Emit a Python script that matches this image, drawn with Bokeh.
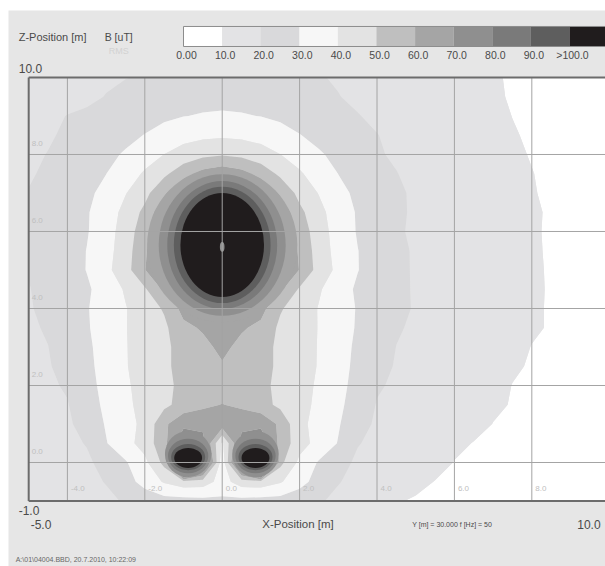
import numpy as np
from bokeh.plotting import figure
from bokeh.core.properties import value
from bokeh.embed import file_html
from bokeh.resources import INLINE

# ---------------- data ----------------
x_pos = [-5.0, -4.5, -4.0, -3.5, -3.0, -2.5, -2.0, -1.5, -1.0, -0.5, 0.0, 0.5, 1.0, 1.5, 2.0, 2.5,
         3.0, 3.5, 4.0, 4.5, 5.0, 5.5, 6.0, 6.5, 7.0, 7.5, 8.0, 8.5, 9.0, 9.5, 10.0]
z_pos = [-1.0, -0.5, 0.0, 0.5, 1.0, 1.5, 2.0, 2.5, 3.0, 3.5, 4.0, 4.5, 5.0, 5.5, 6.0, 6.5,
         7.0, 7.5, 8.0, 8.5, 9.0, 9.5, 10.0]

# B [uT] (RMS) on the grid, one row per z (ascending), columns follow x_pos
B_uT = [
    [11, 12.5, 14.8, 16.2, 17.8, 21, 24, 26, 26, 27, 28, 27, 26, 26, 24, 21, 17.8, 16.2, 14.8, 10.6, 9.2, 8.8, 8.5, 8.2, 7.9, 7.6, 7.4, 7.2, 7.0, 6.8, 6.5],
    [13.2, 14.4, 15.8, 17.3, 20.5, 26, 33.5, 41, 46, 45, 36, 45, 46, 41, 33.5, 26, 20.5, 17.3, 15.8, 14.4, 12, 9.8, 9.3, 8.8, 8.4, 8.1, 7.8, 7.5, 7.2, 7.0, 6.7],
    [13.9, 15.3, 16.7, 18.3, 23.5, 29, 37.5, 53, 160, 92, 33, 92, 160, 53, 37.5, 29, 23.5, 18.3, 16.7, 15.3, 13.9, 12.4, 9.8, 9.2, 8.8, 8.4, 8.1, 7.8, 7.5, 7.2, 6.9],
    [15.1, 16.4, 17.8, 20.5, 29.5, 36.5, 44, 57, 78, 74, 38, 74, 78, 57, 44, 36.5, 29.5, 20.5, 17.8, 16.4, 15.1, 13.8, 11.3, 9.8, 9.5, 9.0, 8.5, 8.1, 7.7, 7.4, 7.1],
    [15.9, 17.2, 18.6, 23.5, 30.8, 37.2, 42, 58, 67.5, 67, 66, 67, 67.5, 58, 42, 37.2, 30.8, 23.5, 18.6, 17.2, 15.9, 14.6, 13.2, 11.8, 9.9, 9.3, 8.8, 8.4, 8.0, 7.6, 7.3],
    [16.6, 17.8, 19.5, 26, 31.8, 38, 43, 47.5, 54, 58, 60.3, 58, 54, 47.5, 43, 38, 31.8, 26, 19.5, 17.8, 16.6, 15.3, 14, 12.6, 10.9, 9.7, 9.1, 8.6, 8.2, 7.8, 7.4],
    [17.2, 18.6, 21, 27.2, 32.5, 38.7, 43.3, 47.5, 52.5, 55, 56, 55, 52.5, 47.5, 43.3, 38.7, 32.5, 27.2, 21, 18.6, 17.2, 15.9, 14.6, 13.2, 11.6, 9.9, 9.3, 8.8, 8.3, 7.9, 7.5],
    [17.8, 19.2, 23.5, 28, 33, 39.4, 44, 48, 53.5, 57, 59, 57, 53.5, 48, 44, 39.4, 33, 28, 23.5, 19.2, 17.8, 16.5, 15.2, 13.9, 12.7, 10.6, 9.6, 9.1, 8.6, 8.1, 7.7],
    [18.3, 19.9, 24, 28.4, 33.5, 39.5, 44, 48, 53.5, 57.2, 62.5, 57.2, 53.5, 48, 44, 39.5, 33.5, 28.4, 24, 19.9, 18.3, 16.9, 15.6, 14.3, 13, 11.2, 9.9, 9.3, 8.8, 8.3, 7.8],
    [18.8, 20.8, 24.8, 29.2, 33.8, 39.6, 44.5, 48, 57.5, 61.2, 63, 61.2, 57.5, 48, 44.5, 39.6, 33.8, 29.2, 24.8, 20.8, 18.8, 17.3, 15.9, 14.5, 13.2, 12, 10.5, 9.7, 9.0, 8.4, 7.9],
    [19.4, 21.8, 25.5, 29.5, 33.5, 39.5, 45, 51, 63.5, 72, 77, 72, 63.5, 51, 45, 39.5, 33.5, 29.5, 25.5, 21.8, 19.4, 17.7, 16.1, 14.7, 13.3, 12, 10.5, 9.7, 9.0, 8.4, 7.9],
    [19.8, 21.5, 24.7, 28.5, 34.5, 41, 48.7, 62, 80, 101, 108, 101, 80, 62, 48.7, 41, 34.5, 28.5, 24.7, 21.5, 19.4, 17.7, 16.1, 14.7, 13.4, 12, 10.6, 9.7, 9.0, 8.4, 7.9],
    [20.2, 21.8, 25.5, 30.3, 37.5, 46, 59.6, 71.5, 97, 125, 150, 125, 97, 71.5, 59.6, 46, 37.5, 30.3, 25.5, 21.6, 19.3, 17.6, 16, 14.6, 13.3, 11.9, 10.5, 9.7, 9.0, 8.4, 7.9],
    [20.4, 21.9, 25.6, 30.2, 36.3, 45.5, 58, 76.5, 107, 215, 230, 215, 107, 76.5, 58, 45.5, 36.3, 30.2, 25.6, 21.5, 19.3, 17.6, 16, 14.6, 13.3, 11.9, 10.5, 9.6, 8.9, 8.3, 7.8],
    [20.5, 22, 25, 29.3, 35.7, 44.5, 56, 75, 104, 180, 220, 180, 104, 75, 56, 44.5, 35.7, 29.3, 25, 21, 18.8, 17.2, 15.8, 14.4, 13.1, 11.8, 10.4, 9.6, 8.9, 8.3, 7.8],
    [20.5, 22, 25.5, 29.2, 34.7, 43, 52.5, 68.5, 91.5, 125, 160, 125, 91.5, 68.5, 52.5, 43, 34.7, 29.2, 25.5, 21.5, 18.8, 17.2, 15.8, 14.4, 13.1, 11.8, 10.5, 9.6, 8.9, 8.3, 7.8],
    [20.2, 21.9, 24.8, 28.2, 32.5, 39.5, 47, 58.3, 72.5, 90.6, 100.5, 90.6, 72.5, 58.3, 47, 39.5, 32.5, 28.2, 24.8, 21.2, 18.9, 17.3, 15.8, 14.3, 12.9, 11.6, 10.2, 9.5, 8.8, 8.2, 7.7],
    [19.5, 20.8, 23, 26, 29.9, 35.3, 41.2, 48, 56, 63.5, 67, 63.5, 56, 48, 41.2, 35.3, 29.9, 26, 22.7, 20.2, 18.3, 16.7, 15.1, 13.7, 12.2, 11, 10.1, 9.3, 8.6, 8.0, 7.6],
    [18.8, 20.2, 21.8, 24.4, 27.7, 31, 35.8, 40.1, 44.5, 47.5, 49, 47.5, 44.5, 40.1, 35.8, 31, 27.7, 24.2, 20.6, 19.2, 17.6, 16, 14.6, 13.2, 11.8, 10.6, 9.8, 9.1, 8.5, 7.9, 7.5],
    [18, 19.3, 21, 22.8, 25, 27.5, 30.3, 33.8, 36.2, 37.8, 38.5, 37.8, 36.2, 33.8, 30.3, 27.5, 25, 22.4, 20.2, 18.3, 16.8, 15.4, 14, 12.8, 11.4, 10.3, 9.5, 8.9, 8.3, 7.8, 7.4],
    [17.2, 18.5, 20.2, 21, 22.5, 24.3, 26.3, 28.2, 29.8, 30.6, 31, 30.6, 29.8, 28.2, 26.3, 24.3, 22.2, 20.3, 18.7, 17.3, 16, 14.7, 13.4, 12.2, 11, 9.95, 9.3, 8.7, 8.2, 7.7, 7.3],
    [15.1, 16.3, 17.5, 18.8, 20.2, 22, 23.8, 25.3, 26.5, 27.2, 27.5, 27.2, 26.5, 25.3, 23.8, 22, 20.2, 18.8, 17.5, 16.3, 15.1, 13.9, 12.8, 11.7, 10.5, 9.7, 9.1, 8.6, 8.1, 7.6, 7.2],
    [15, 16.1, 17.2, 18.3, 19.2, 19.8, 20.6, 22.5, 23.3, 23.8, 24, 23.8, 23.3, 22.5, 21.5, 20.4, 19.4, 18.3, 17.2, 16.1, 15, 13.8, 12.7, 11.6, 10.4, 9.6, 9.0, 8.5, 8.0, 7.6, 7.2],
]

levels = [0, 10, 20, 30, 40, 50, 60, 70, 80, 90, 100, 1000]
cb_labels = ["0.00", "10.0", "20.0", "30.0", "40.0", "50.0", "60.0", "70.0", "80.0", "90.0", ">100.0"]
x_ticks = [-4, -2, 0, 2, 4, 6, 8]
x_tick_labels = ["-4.0", "-2.0", "0.0", "2.0", "4.0", "6.0", "8.0"]
z_ticks = [0, 2, 4, 6, 8]
z_tick_labels = ["0.0", "2.0", "4.0", "6.0", "8.0"]

# upper conductor and the iso-lines around it (half-axes)
cond_x = [0.0]
cond_z = [5.6]
ring_x = [0.0] * 5
ring_z = [5.65] * 5
ring_level = [60, 70, 80, 90, 100]          # lower bound of the band inside each ring
ring_rx = [1.94, 1.64, 1.42, 1.25, 1.08]    # horizontal half-axis [m]
ring_rz = [2.01, 1.84, 1.66, 1.51, 1.35]    # vertical half-axis [m]

# iso-lines around the two lower conductors
low_x = [-0.88, -0.88, -0.88, -0.88, 0.86, 0.86, 0.86, 0.86]
low_z = [0.22, 0.17, 0.14, 0.12, 0.22, 0.17, 0.14, 0.12]
low_level = [70, 80, 90, 100, 70, 80, 90, 100]
low_rx = [0.60, 0.52, 0.44, 0.36, 0.60, 0.52, 0.44, 0.36]
low_rz = [0.60, 0.45, 0.34, 0.26, 0.60, 0.45, 0.34, 0.26]

# ---------------- style ----------------
band_colors = ["#ffffff", "#e3e3e5", "#d9d9db", "#f7f7f7", "#e3e3e3", "#bfbfbf",
               "#a5a5a5", "#8f8f8f", "#7a7a7a", "#5e5e5e", "#201c1d"]
BG = "#e6e6e6"
FONT = value("Liberation Sans")
TXT = "#4a4a4a"

X_LO, X_HI = -5.522, 9.904
Z_LO, Z_HI = -2.701, 11.740
x0, x1 = x_pos[0], x_pos[-1]
z0, z1 = z_pos[0], z_pos[-1]

p = figure(width=605, height=566, x_range=(X_LO, X_HI), y_range=(Z_LO, Z_HI),
           x_axis_location=None, y_axis_location=None, toolbar_location=None,
           output_backend="svg", min_border_left=8, min_border_top=10,
           min_border_right=0, min_border_bottom=0, background_fill_color=BG,
           border_fill_color="white", outline_line_color=None)
p.grid.visible = False

# filled contour bands
p.contour(x_pos, z_pos, np.array(B_uT, dtype=float), levels, fill_color=band_colors)


def band_color(lv):
    return band_colors[levels.index(lv)]


# smooth iso-rings around the conductors
p.ellipse(ring_x, ring_z, width=[2 * r for r in ring_rx], height=[2 * r for r in ring_rz],
          fill_color=[band_color(lv) for lv in ring_level], line_color=None)
p.ellipse(low_x, low_z, width=[2 * r for r in low_rx], height=[2 * r for r in low_rz],
          fill_color=[band_color(lv) for lv in low_level], line_color=None)

# conductor marker
p.ellipse(cond_x, cond_z, width=0.12, height=0.25, fill_color="#8e8e8e", line_color=None)

# grid lines on top of the bands
p.segment(x0=x_ticks, y0=[z0] * len(x_ticks), x1=x_ticks, y1=[z1] * len(x_ticks),
          line_color="#a4a4a4", line_width=1)
p.segment(x0=[x0] * len(z_ticks), y0=z_ticks, x1=[X_HI] * len(z_ticks), y1=z_ticks,
          line_color="#a4a4a4", line_width=1)

# frame (left, top, bottom)
p.segment(x0=[x0, x0, x0], y0=[z0, z1, z0], x1=[x0, X_HI, X_HI], y1=[z1, z1, z0],
          line_color="#6c6c6c", line_width=2)

# faint inner tick labels
p.text(x=[x0] * len(z_ticks), y=z_ticks, text=z_tick_labels, x_offset=3, y_offset=-11,
       text_font=FONT, text_font_size="8px", text_color="#c0c0c0",
       text_align="left", text_baseline="middle")
p.text(x=x_ticks, y=[z0] * len(x_ticks), text=x_tick_labels, x_offset=3.5, y_offset=-13,
       text_font=FONT, text_font_size="8px", text_color="#c0c0c0",
       text_align="left", text_baseline="middle")

# colour bar (legend)
cb_left, cb_w = -1.0, 0.9974
cb_bottom, cb_top = 10.805, 11.325
n = len(band_colors)
p.quad(left=[cb_left + i * cb_w for i in range(n)], right=[cb_left + (i + 1) * cb_w for i in range(n)],
       bottom=cb_bottom, top=cb_top, fill_color=band_colors, line_color=None)
p.quad(left=[cb_left], right=[cb_left + n * cb_w], bottom=[cb_bottom], top=[cb_top],
       fill_color=None, line_color="#8c8c8c", line_width=1)
p.text(x=[cb_left + i * cb_w for i in range(n)], y=[cb_bottom] * n, text=cb_labels,
       x_offset=3, y_offset=9, text_font=FONT, text_font_size="10.5px", text_color=TXT,
       text_align="center", text_baseline="middle")


def label(x, y, txt, dx, dy, size, color=TXT, align="left"):
    p.text(x=[x], y=[y], text=[txt], x_offset=dx, y_offset=dy, text_font=FONT,
           text_font_size=size, text_color=color, text_align=align, text_baseline="middle")


label(x0, z1, "Z-Position [m]", -10, -40, "11px")
label(x0, z1, "B [uT]", 76, -40, "10.5px")
label(x0, z1, "RMS", 80, -26, "9px", "#d2d2d2")
label(x0, z1, "10.0", -10, -9, "12px")
label(x0, z0, "-1.0", -10, 9, "12px")
label(x0, z0, "-5.0", 2, 23, "12px")
label(0.0, z0, "X-Position [m]", 40, 23, "11.5px")
label(0.0, z0, "Y [m] = 30.000    f [Hz] = 50", 190, 23.5, "7px")
label(x1, z0, "10.0", -32, 23, "12px")
label(x0, z0, "A:\\01\\04004.BBD, 20.7.2010, 10:22:09", -13, 58, "7px", "#666666")

open("out.html", "w").write(file_html(p, INLINE))
